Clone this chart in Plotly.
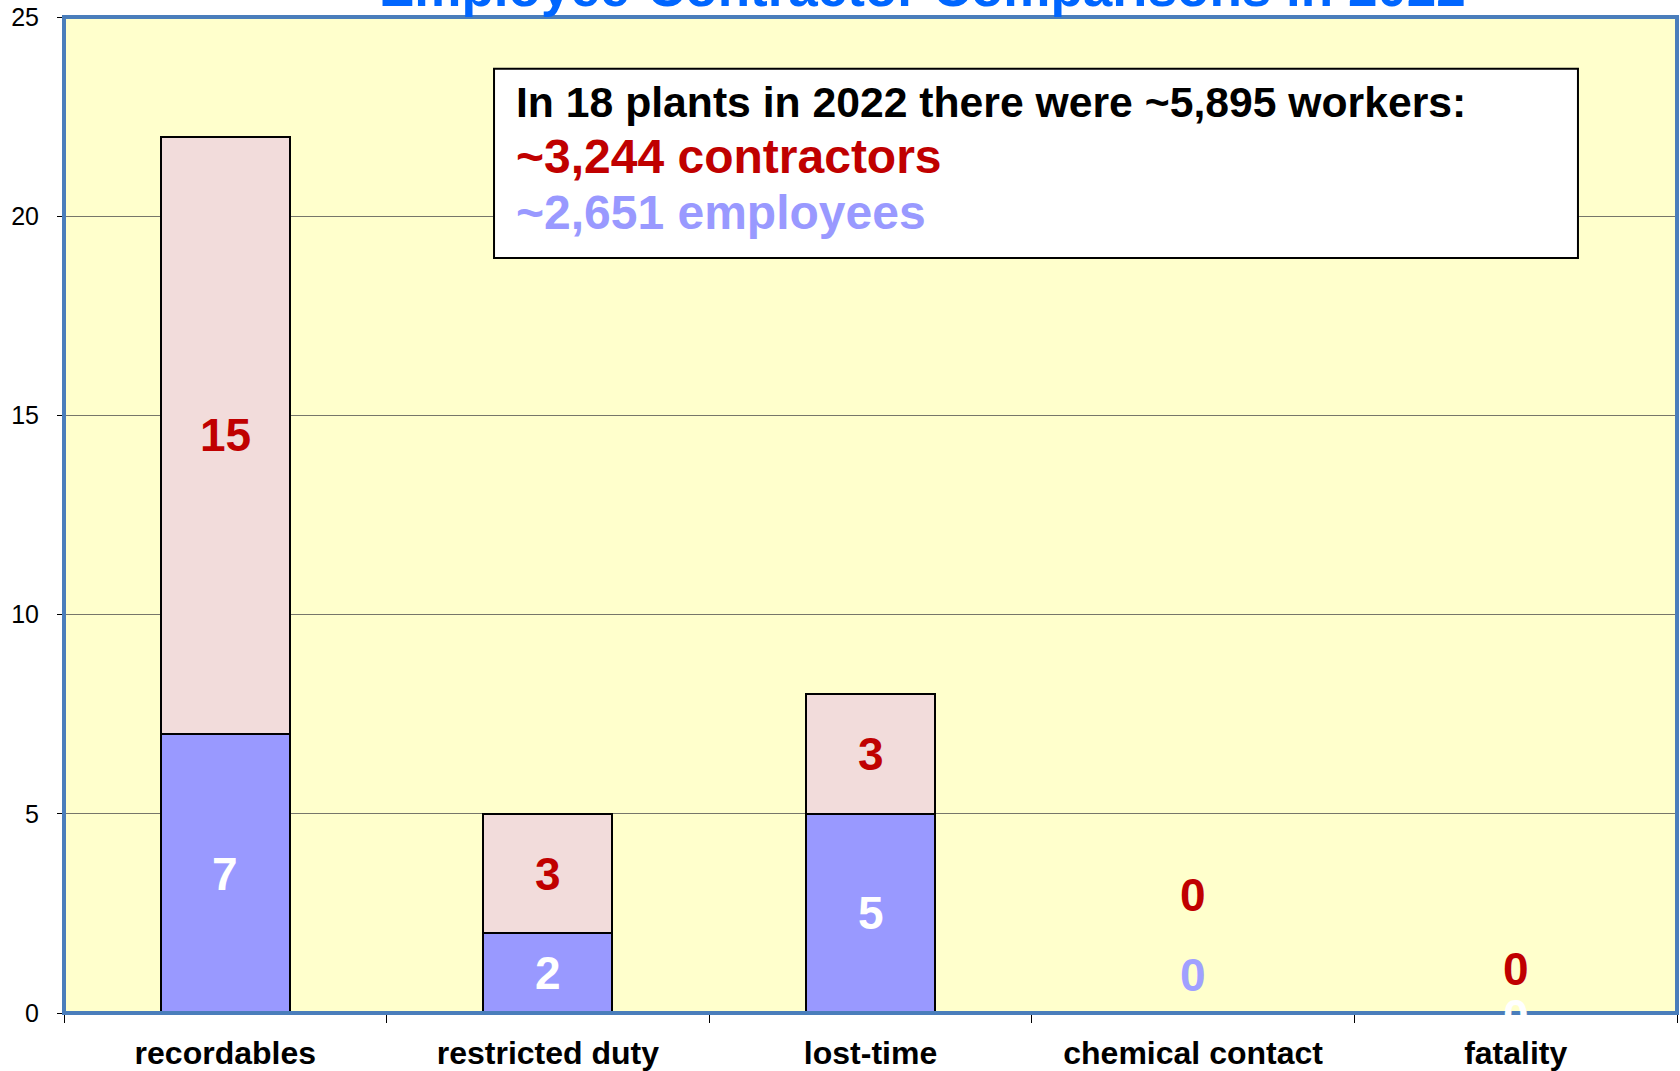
import plotly.graph_objects as go

categories = ["recordables", "restricted duty", "lost-time", "chemical contact", "fatality"]
employees = [7, 2, 5, 0, 0]
contractors = [15, 3, 3, 0, 0]
y_ticks = [0, 5, 10, 15, 20, 25]

title_text = "Employee-Contractor Comparisons in 2022"
box_lines = ["In 18 plants in 2022 there were ~5,895 workers:",
             "~3,244 contractors",
             "~2,651 employees"]

# label positions for zero-valued entries (manually placed in the original)
zero_emp_label_y = {3: 0.95, 4: 0.0}
zero_con_label_y = {3: 2.97, 4: 1.1}
zero_emp_label_color = {3: "#A0A0FF", 4: "#FFFFFF"}

EMP_COLOR = "#9999FF"
CON_COLOR = "#F2DCDB"
RED = "#C00000"
FONT = "Liberation Sans, Arial, sans-serif"

fig = go.Figure()
fig.add_trace(go.Bar(x=categories, y=employees, name="employees", width=0.4,
                     marker=dict(color=EMP_COLOR, line=dict(color="black", width=2))))
fig.add_trace(go.Bar(x=categories, y=contractors, name="contractors", width=0.4,
                     marker=dict(color=CON_COLOR, line=dict(color="black", width=2))))

annotations = []
for i, c in enumerate(categories):
    e, k = employees[i], contractors[i]
    ey = e / 2 if e else zero_emp_label_y[i]
    ecol = "white" if e else zero_emp_label_color[i]
    ky = e + k / 2 if k else zero_con_label_y[i]
    annotations.append(dict(x=c, y=ey, xref="x", yref="y", text=str(e), showarrow=False,
                            yshift=(-3 if (not e and ey == 0) else 0),
                            font=dict(family=FONT, size=46, color=ecol, weight="bold")))
    annotations.append(dict(x=c, y=ky, xref="x", yref="y", text=str(k), showarrow=False,
                            font=dict(family=FONT, size=46, color=RED, weight="bold")))

# title (mostly cropped at top)
annotations.append(dict(x=0.532, y=1.0301, xref="paper", yref="paper", text=title_text,
                        showarrow=False, xanchor="center", yanchor="middle",
                        font=dict(family=FONT, size=53, color="#0066FF", weight="bold")))

# text box lines
line_y = [0.9147, 0.8604, 0.804]
line_col = ["black", RED, EMP_COLOR]
line_size = [42.7, 48, 48]
for t, yy, col, sz in zip(box_lines, line_y, line_col, line_size):
    annotations.append(dict(x=0.279, y=yy, xref="paper", yref="paper", text=t, showarrow=False,
                            xanchor="left", yanchor="middle",
                            font=dict(family=FONT, size=sz, color=col, weight="bold")))

shapes = [
    dict(type="rect", xref="paper", yref="paper", x0=0.2666, x1=0.9386, y0=0.758, y1=0.948,
         fillcolor="white", line=dict(color="black", width=2), layer="above"),
    dict(type="rect", xref="paper", yref="paper", x0=0, x1=1, y0=0, y1=1,
         line=dict(color="#4A7EBB", width=4), layer="above"),
]

fig.update_layout(
    width=1680, height=1071,
    margin=dict(l=64, r=3, t=17, b=58, autoexpand=False),
    paper_bgcolor="white", plot_bgcolor="#FFFFCC",
    barmode="stack", showlegend=False,
    annotations=annotations, shapes=shapes,
    font=dict(family=FONT, color="black"),
)
fig.update_xaxes(type="category", tickson="boundaries", ticks="outside", ticklen=9,
                 tickcolor="black", tickwidth=1, showgrid=False, showline=False,
                 automargin=False, ticklabelstandoff=18,
                 tickfont=dict(family=FONT, size=32, color="black", weight="bold"),
                 range=[-0.5, 4.5])
fig.update_yaxes(range=[0, 25], tickvals=y_ticks, ticks="outside", ticklen=6, tickcolor="black",
                 showgrid=True, gridcolor="#76766A", gridwidth=1.2, zeroline=False,
                 automargin=False, ticklabelstandoff=13,
                 showline=False, tickfont=dict(family=FONT, size=25, color="black"))

fig.write_html("out.html", config={"displayModeBar": False},
               post_script="document.body.style.margin='0';document.body.style.overflow='hidden';")
